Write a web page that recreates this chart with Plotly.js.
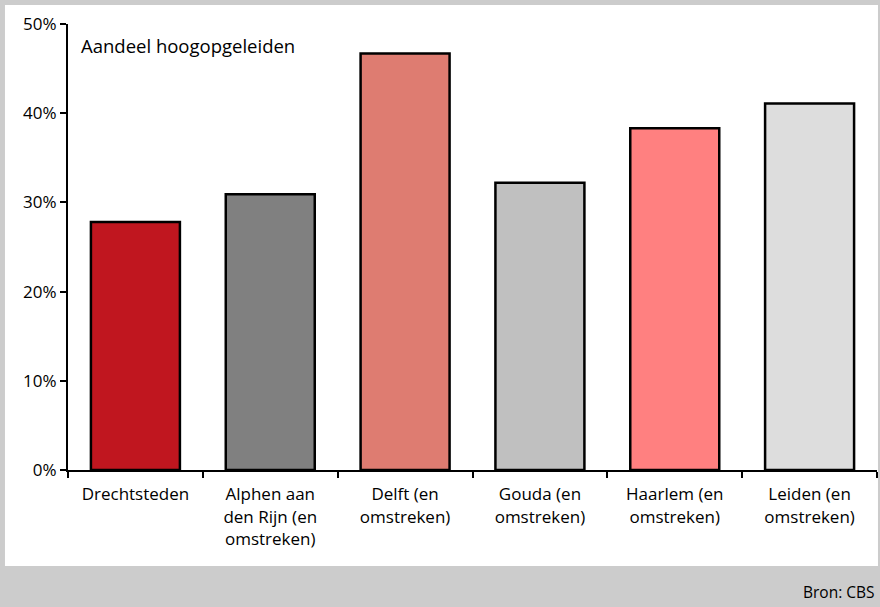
<!DOCTYPE html>
<html>
<head>
<meta charset="utf-8">
<script src="https://cdn.plot.ly/plotly-3.0.1.min.js"></script>
<style>
html,body{margin:0;padding:0;background:#cccccc;}
#chart{width:880px;height:607px;}
</style>
</head>
<body>
<div id="chart"></div>
<script>
const categories = ["Drechtsteden", "Alphen aan<br>den Rijn (en<br>omstreken)", "Delft (en<br>omstreken)", "Gouda (en<br>omstreken)", "Haarlem (en<br>omstreken)", "Leiden (en<br>omstreken)"];
const values = [27.8, 30.9, 46.7, 32.2, 38.3, 41.1];
const barColors = ["#c0161f", "#808080", "#de7c71", "#c0c0c0", "#ff8080", "#dddddd"];
const yTicks = [0, 10, 20, 30, 40, 50];
const yTickText = ["0%", "10%", "20%", "30%", "40%", "50%"];
const seriesLabel = "Aandeel hoogopgeleiden";
const sourceText = "Bron: CBS";

const FONT = "Open Sans, Noto Sans, sans-serif";

const trace = {
  type: "bar",
  x: categories,
  y: values,
  marker: { color: barColors, line: { color: "#000000", width: 2.5 } },
  hoverinfo: "skip"
};

const layout = {
  width: 880,
  height: 607,
  margin: { l: 68, r: 3, t: 24, b: 137 },
  paper_bgcolor: "#cccccc",
  plot_bgcolor: "rgba(0,0,0,0)",
  bargap: 0.34,
  showlegend: false,
  font: { family: FONT, size: 17, color: "#000000" },
  xaxis: {
    type: "category",
    showline: true, linecolor: "#000000", linewidth: 2,
    ticks: "outside", tickson: "boundaries", ticklen: 6, tickwidth: 2, tickcolor: "#000000",
    showgrid: false, zeroline: false,
    tickfont: { family: FONT, size: 17, color: "#000000" },
    tickangle: 0,
    ticklabelstandoff: 8,
    fixedrange: true
  },
  yaxis: {
    range: [0, 50],
    tickvals: yTicks, ticktext: yTickText,
    showline: true, linecolor: "#000000", linewidth: 2,
    ticks: "outside", ticklen: 6, tickwidth: 2, tickcolor: "#000000",
    showgrid: false, zeroline: false,
    tickfont: { family: FONT, size: 17, color: "#000000" },
    fixedrange: true
  },
  shapes: [
    { type: "rect", xref: "paper", yref: "paper", layer: "below",
      x0: -0.0779, x1: 1.0012, y0: -0.2152, y1: 1.0426,
      fillcolor: "#ffffff", line: { width: 0 } }
  ],
  annotations: [
    { text: seriesLabel, xref: "paper", yref: "paper", x: 0.0136, y: 0.9507,
      xanchor: "left", yanchor: "middle", showarrow: false,
      font: { family: FONT, size: 18.5, color: "#000000" } },
    { text: sourceText, xref: "paper", yref: "paper", x: 1.0, y: -0.2735,
      xanchor: "right", yanchor: "middle", showarrow: false,
      font: { family: FONT, size: 15.5, color: "#000000" } }
  ]
};

Plotly.newPlot("chart", [trace], layout, { displayModeBar: false, staticPlot: true });
</script>
</body>
</html>
